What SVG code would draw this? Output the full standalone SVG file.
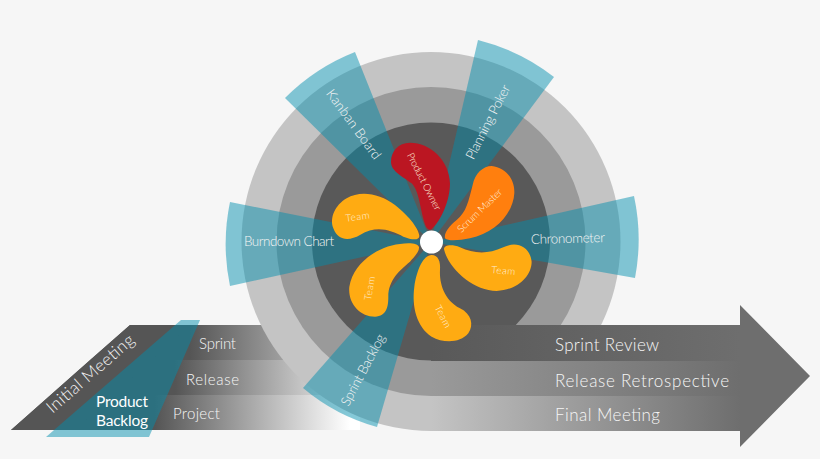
<svg xmlns="http://www.w3.org/2000/svg" width="820" height="459" viewBox="0 0 820 459">
<style>
text{font-family:"Lato","Liberation Sans",sans-serif;font-weight:300;fill:#f6f6f6;text-anchor:middle}
.b{font-size:17px}.m{font-size:15px}.c{font-size:13.500px}.s{font-size:10px;fill:#fff0dc}
.p{font-size:15.500px;font-weight:400;fill:#fff}
.w{fill:#008ead;fill-opacity:.48}
.y{fill:#ffab12}
</style>
<defs>
<linearGradient id="l1" gradientUnits="userSpaceOnUse" x1="190" x2="290" y1="0" y2="0"><stop offset="0" stop-color="#555"/><stop offset="1" stop-color="#a5a5a5"/></linearGradient>
<linearGradient id="l2" gradientUnits="userSpaceOnUse" x1="175" x2="320" y1="0" y2="0"><stop offset="0" stop-color="#555"/><stop offset="1" stop-color="#d5d5d5"/></linearGradient>
<linearGradient id="l3" gradientUnits="userSpaceOnUse" x1="155" x2="350" y1="0" y2="0"><stop offset="0" stop-color="#555"/><stop offset="1" stop-color="#fff"/></linearGradient>
<linearGradient id="r1" gradientUnits="userSpaceOnUse" x1="431" x2="740" y1="0" y2="0"><stop offset="0" stop-color="#595959"/><stop offset="1" stop-color="#6e6e6e"/></linearGradient>
<linearGradient id="r2" gradientUnits="userSpaceOnUse" x1="431" x2="740" y1="0" y2="0"><stop offset="0" stop-color="#9a9a9a"/><stop offset="1" stop-color="#6e6e6e"/></linearGradient>
<linearGradient id="r3" gradientUnits="userSpaceOnUse" x1="431" x2="740" y1="0" y2="0"><stop offset="0" stop-color="#c4c4c4"/><stop offset="1" stop-color="#6e6e6e"/></linearGradient>
</defs>
<rect width="820" height="459" fill="#f6f6f6"/>
<g id="left-ribbon">
<path d="M130 325H300V360H90Z" fill="url(#l1)"/>
<path d="M90 360H320V395H50.500Z" fill="url(#l2)"/>
<path d="M50.500 395H360V430H11Z" fill="url(#l3)"/>
<path d="M130 325H190L75 430H11Z" fill="#555"/>
</g>
<g id="rings">
<circle cx="431" cy="241.500" r="189.500" fill="#c4c4c4"/>
<circle cx="431" cy="241.500" r="154.500" fill="#9a9a9a"/>
<circle cx="431" cy="241.500" r="119" fill="#595959"/>
</g>
<g id="right-arrow">
<path d="M431 325H740V305L810 376L740 447V431H431Z" fill="#6e6e6e"/>
<rect x="431" y="325" width="309" height="36" fill="url(#r1)"/>
<rect x="431" y="361" width="309" height="35" fill="url(#r2)"/>
<rect x="431" y="396" width="309" height="35" fill="url(#r3)"/>
</g>
<g id="connectors">
<path id="w-kanban" class="w" d="M431 242L285 98A204 204 0 0 1 355 52Z"/>
<path id="w-poker" class="w" d="M431 242L478 40A206 206 0 0 1 554 77Z"/>
<path id="w-chrono" class="w" d="M431 242L634 196A206 206 0 0 1 635 278Z"/>
<path id="w-backlog" class="w" d="M431 242L377 427A195 195 0 0 1 303 388Z"/>
<path id="w-burndown" class="w" d="M431 242L230 286A206 206 0 0 1 230 202Z"/>
<path id="w-product" class="w" d="M181 320H200L149 437H46Z"/>
</g>
<g id="labels-left">
<text class="m" x="217.500" y="349" textLength="37">Sprint</text>
<text class="m" x="212.500" y="385" textLength="53">Release</text>
<text class="m" x="196.500" y="419" textLength="47">Project</text>
<text class="b" transform="translate(94 378) rotate(-41)" textLength="110">Initial Meeting</text>
<text class="p" x="122" y="407" textLength="52">Product</text>
<text class="p" x="122" y="426" textLength="52">Backlog</text>
</g>
<g id="labels-right">
<text class="b" x="607" y="351" textLength="104">Sprint Review</text>
<text class="b" x="642" y="387" textLength="174">Release Retrospective</text>
<text class="b" x="607.500" y="421" textLength="105">Final Meeting</text>
</g>
<g id="kanban"><text class="c" transform="translate(350 127) rotate(54)" textLength="83">Kanban Board</text></g>
<g id="poker"><text class="c" transform="translate(492 124) rotate(-63)" textLength="82">Planning Poker</text></g>
<g id="chrono"><text class="c" transform="translate(568 243) rotate(-1.500)" textLength="74">Chronometer</text></g>
<g id="burndown"><text class="c" x="289" y="246" textLength="90">Burndown Chart</text></g>
<g id="backlog"><text class="c" transform="translate(367 372) rotate(-62)" textLength="79">Sprint Backlog</text></g>
<g id="product-owner">
<path transform="translate(320 130) scale(.3333)" fill="#bb1622" d="M335 298C365 270 390 210 390 160C388 90 330 38 270 38C235 38 213 65 213 95C213 125 250 140 275 160C300 185 300 245 318 290C322 298 330 302 335 298Z"/>
<text class="s" transform="translate(421 183) rotate(63)" textLength="63">Product Owner</text>
</g>
<g id="scrum-master">
<path transform="translate(320 130) scale(.3333)" fill="#ff7f0e" d="M375 325C372 310 385 290 410 270C440 245 445 215 458 165C465 130 490 108 515 108C555 112 585 145 583 190C580 250 525 310 450 325C420 331 385 335 375 325Z"/>
<text class="s" transform="translate(482 213) rotate(-44)" textLength="58">Scrum Master</text>
</g>
<g id="team-right">
<path class="y" transform="translate(320 130) scale(.3333)" d="M372 358C372 345 395 342 420 352C460 370 500 375 550 352C590 332 630 350 635 395C635 440 590 480 530 483C460 483 385 415 372 358Z"/>
<text class="s" transform="translate(503 274) rotate(5)" textLength="24">Team</text>
</g>
<g id="team-bottom">
<path class="y" transform="translate(320 130) scale(.3333)" d="M335 375C355 375 362 395 360 420C358 460 372 510 420 535C455 552 462 585 445 610C420 640 370 640 335 620C290 590 275 530 283 470C290 420 310 375 335 375Z"/>
<text class="s" transform="translate(440 318) rotate(62)" textLength="24">Team</text>
</g>
<g id="team-lower-left">
<path class="y" transform="translate(320 130) scale(.3333)" d="M297 352C295 340 270 338 240 342C170 350 100 400 88 470C83 520 120 560 165 560C200 558 205 530 205 500C205 450 240 420 270 395C285 378 298 365 297 352Z"/>
<text class="s" transform="translate(373 289) rotate(-80)" textLength="24">Team</text>
</g>
<g id="team-upper-left">
<path class="y" transform="translate(320 130) scale(.3333)" d="M298 318C298 300 270 260 225 225C180 190 120 180 80 205C45 225 28 265 40 295C55 335 90 332 120 315C170 285 210 300 250 320C275 330 298 332 298 318Z"/>
<text class="s" transform="translate(358 220) rotate(-8)" textLength="24">Team</text>
</g>
<g id="hub"><circle cx="431.500" cy="242" r="11.500" fill="#fff"/></g>
</svg>
